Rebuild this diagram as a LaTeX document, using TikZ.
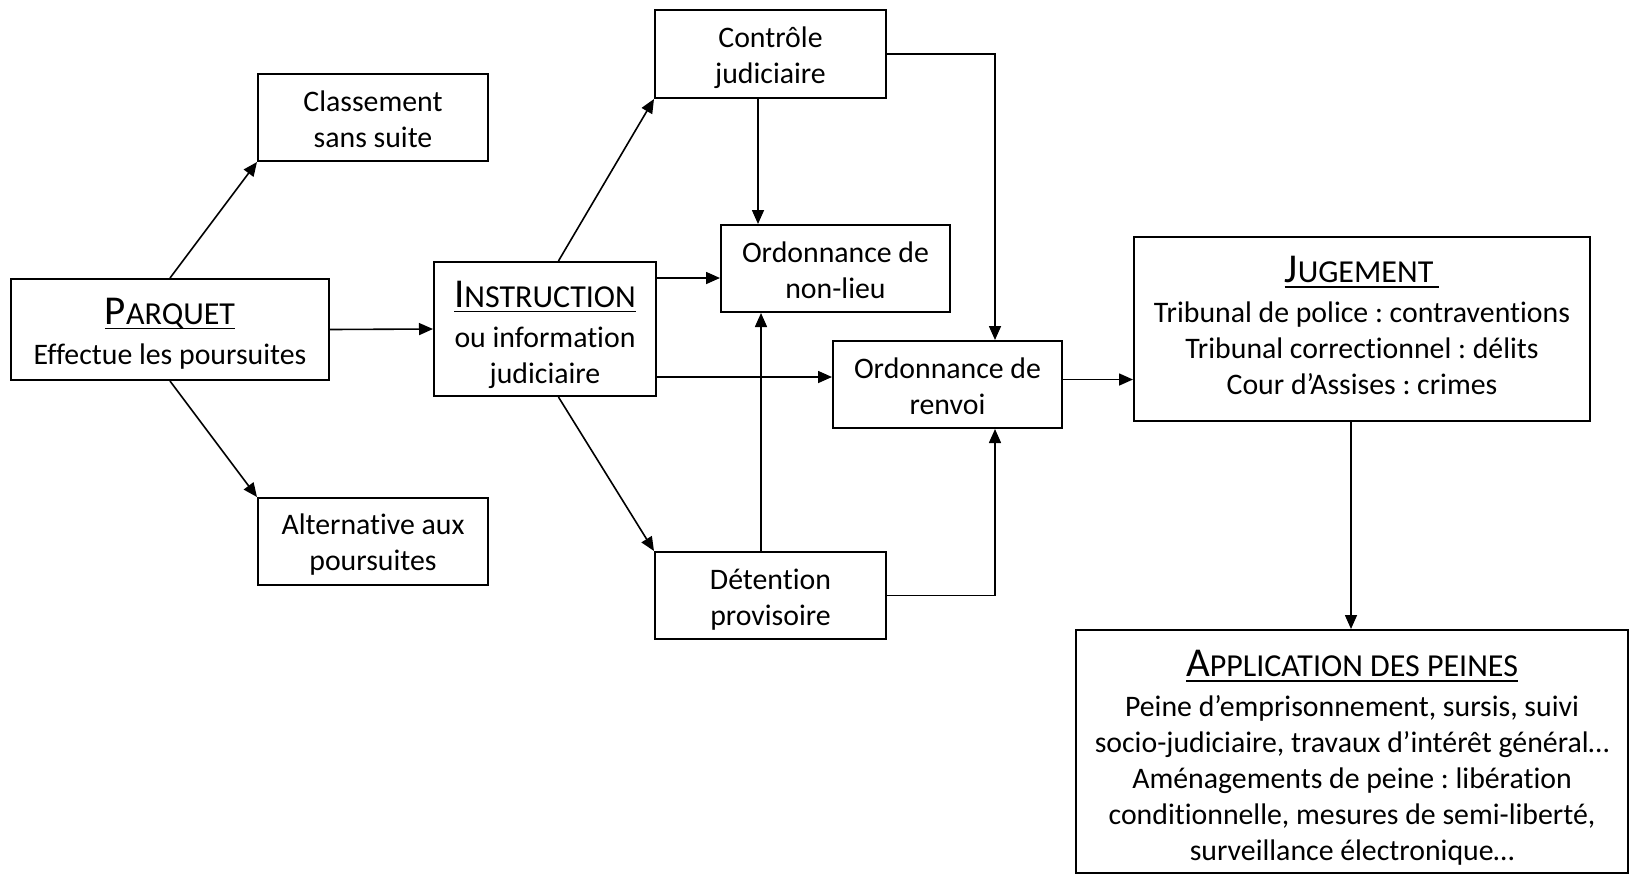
\documentclass[tikz,border=0pt]{standalone}
\usepackage{fontspec}
\setmainfont[Ligatures=NoCommon]{Carlito}
\usetikzlibrary{arrows.meta,calc}
\frenchspacing
\newcommand\myul[1]{\setbox0\hbox{#1}\rlap{\rule[-2.6pt]{\wd0}{0.9pt}}\box0}
\newcommand\sch[2]{{\fontsize{20.5}{22}\selectfont #1}{\fontsize{16}{18}\selectfont #2}}
\tikzset{
  box/.style={draw, line width=1pt, inner sep=0pt},
  txt/.style={align=center, inner sep=0pt, font=\fontsize{14.9}{18}\selectfont},
  arr/.style={line width=0.8pt, -{Triangle[length=7pt,width=6pt]}},
}
\begin{document}
\begin{tikzpicture}[x=0.5pt,y=-0.5pt]
\useasboundingbox (0,0) rectangle (1630,875);
\node[box, minimum width=115pt, minimum height=43.5pt] (cls) at (373,117.5) {};
\node[box, minimum width=115pt, minimum height=43.5pt] (alt) at (373,541.5) {};
\node[box, minimum width=159pt, minimum height=50.5pt] (par) at (170,329.5) {};
\node[box, minimum width=111pt, minimum height=67pt] (ins) at (545,329) {};
\node[box, minimum width=115.5pt, minimum height=44pt] (ctl) at (770.5,54) {};
\node[box, minimum width=114.5pt, minimum height=43.5pt] (nl) at (835.5,268.5) {};
\node[box, minimum width=114.5pt, minimum height=43.5pt] (ren) at (947.5,384.5) {};
\node[box, minimum width=115.5pt, minimum height=43.5pt] (det) at (770.5,595.5) {};
\node[box, minimum width=228pt, minimum height=92pt] (jug) at (1362,329) {};
\node[box, minimum width=276pt, minimum height=121.5pt] (app) at (1352,751.5) {};

\node[txt] (clsT) at ($(cls)+(0,1.5)$) {Classement\\sans suite};
\node[txt] (altT) at ($(alt)+(0,3.5)$) {Alternative aux\\poursuites};
\node[txt] (parT) at ($(par)+(0,4)$) {\myul{\sch{P}{ARQUET}}\\[2pt]Effectue les poursuites};
\node[txt] (insT) at ($(ins)+(0,5.5)$) {\myul{\sch{I}{NSTRUCTION}}\\[2pt]ou information\\judiciaire};
\node[txt] (ctlT) at ($(ctl)+(0,3.5)$) {Contrôle\\judiciaire};
\node[txt] (nlT) at ($(nl)+(0,1.5)$) {Ordonnance de\\non-lieu};
\node[txt] (renT) at ($(ren)+(0,2)$) {Ordonnance de\\renvoi};
\node[txt] (detT) at ($(det)+(0,4.5)$) {Détention\\provisoire};
\node[txt] (jugT) at ($(jug)+(0,-3.5)$) {\myul{\sch{J}{UGEMENT}\hspace{3pt}}\\[2pt]Tribunal de police : contraventions\\Tribunal correctionnel : délits\\Cour d’Assises : crimes};
\node[txt] (appT) at ($(app)+(0,6.5)$) {\myul{\sch{A}{PPLICATION DES PEINES}}\\[2pt]Peine d’emprisonnement, sursis, suivi\\socio-judiciaire, travaux d’intérêt général…\\Aménagements de peine : libération\\conditionnelle, mesures de semi-liberté,\\surveillance électronique…};

\draw[arr] (par.north) -- (cls.south west);
\draw[arr] (par.south) -- (alt.north west);
\draw[arr] (par.east) -- (ins.west);
\draw[arr] ($(ins.north west)!0.56!(ins.north east)$) -- (ctl.south west);
\draw[arr] ($(ins.south west)!0.56!(ins.south east)$) -- (det.north west);
\draw[arr] ($(ins.north east)+(0,17)$) coordinate (a) -- (a -| nl.west);
\draw[arr] ($(ins.south east)+(0,-20)$) coordinate (b) -- (b -| ren.west);
\draw[arr] ($(ctl.south west)+(104,0)$) coordinate (c) -- (c |- nl.north);
\draw[arr] ($(det.north west)+(107,0)$) coordinate (d) -- (d |- nl.south);
\draw[arr] (ctl.east) -| ($(ren.north west)+(163,0)$);
\draw[arr] (det.east) -| ($(ren.south west)+(163,0)$);
\draw[arr] ($(ren.east)+(0,-5)$) coordinate (e) -- (e -| jug.west);
\draw[arr] ($(jug.south)+(-11,0)$) coordinate (f) -- (f |- app.north);
\end{tikzpicture}
\end{document}
